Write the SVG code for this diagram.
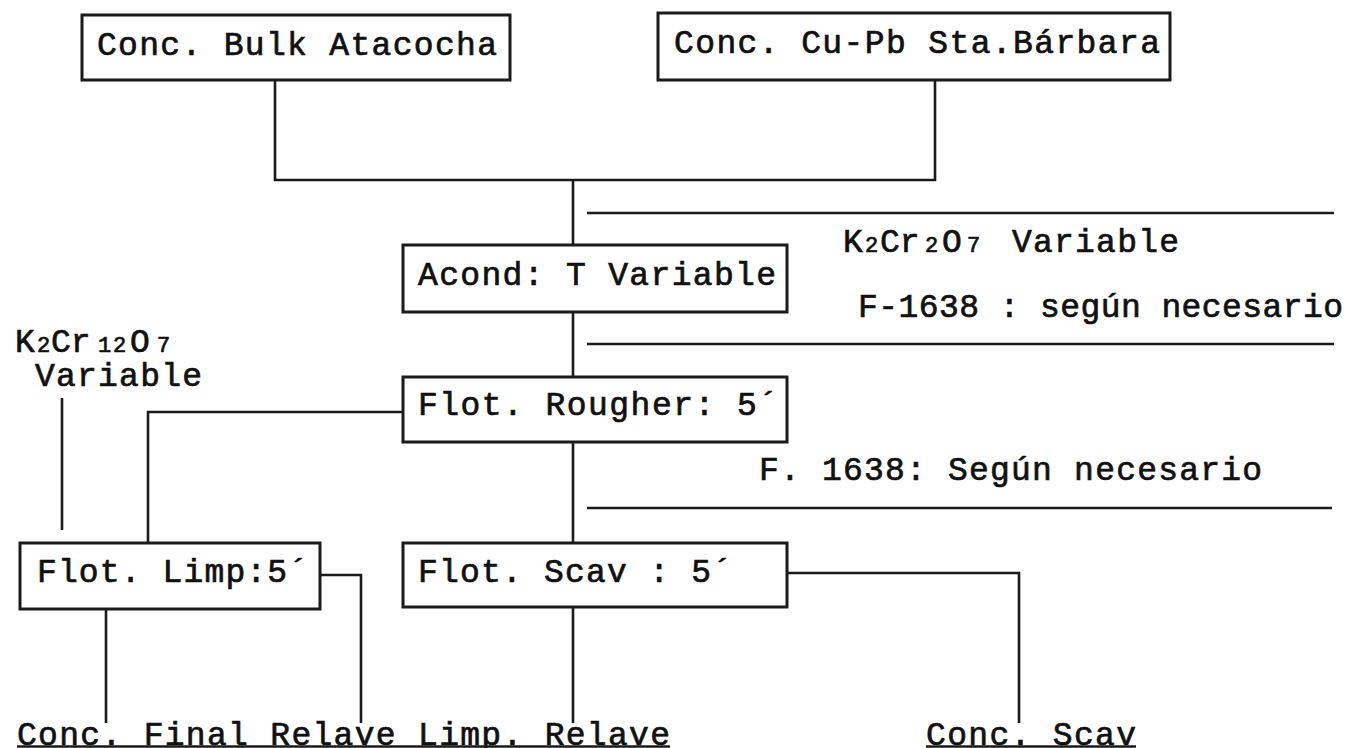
<svg xmlns="http://www.w3.org/2000/svg" width="1346" height="748" viewBox="0 0 1346 748">
<style>
.bg{fill:#ffffff}
.box{fill:#ffffff;stroke:#1a1a1a;stroke-width:3}
.ln{stroke:#1a1a1a;stroke-width:2.6;fill:none}
.t{font-family:"Liberation Mono","Courier New",monospace;font-size:33px;font-weight:normal;fill:#111111;stroke:#111111;stroke-width:0.7}
.s{font-size:22px}
</style>
<rect class="bg" x="0" y="0" width="1346" height="748"/>
<g id="connectors">
<polyline class="ln" points="275,80 275,180 935,180 935,80"/>
<line class="ln" x1="573" y1="180" x2="573" y2="245"/>
<line class="ln" x1="573" y1="312" x2="573" y2="377"/>
<line class="ln" x1="573" y1="442" x2="573" y2="543"/>
<line class="ln" x1="573" y1="607" x2="573" y2="723"/>
<line class="ln" x1="587" y1="213" x2="1334" y2="213"/>
<line class="ln" x1="587" y1="344" x2="1334" y2="344"/>
<line class="ln" x1="587" y1="508" x2="1332" y2="508"/>
<polyline class="ln" points="403,412 148,412 148,543"/>
<line class="ln" x1="62" y1="398" x2="62" y2="530"/>
<line class="ln" x1="106" y1="609" x2="106" y2="723"/>
<polyline class="ln" points="320,575 361,575 361,723"/>
<polyline class="ln" points="787,573 1019,573 1019,723"/>
</g>
<g id="n-bulk">
<rect class="box" x="82" y="15" width="428" height="65"/>
<text class="t" x="97" y="55" textLength="400">Conc. Bulk Atacocha</text>
</g>
<g id="n-cupb">
<rect class="box" x="658" y="13" width="512" height="67"/>
<text class="t" x="674" y="53" textLength="486">Conc. Cu-Pb Sta.Bárbara</text>
</g>
<g id="n-acond">
<rect class="box" x="403" y="245" width="384" height="67"/>
<text class="t" x="418" y="285" textLength="358">Acond: T Variable</text>
</g>
<g id="n-reag1">
<text class="t" x="843" y="252"><tspan>K</tspan><tspan class="s" x="865">2</tspan><tspan x="880">Cr</tspan><tspan class="s" x="925">2</tspan><tspan x="942">O</tspan><tspan class="s" x="967">7</tspan><tspan x="1012" textLength="167">Variable</tspan></text>
<text class="t" x="858" y="317" textLength="485">F-1638 : según necesario</text>
</g>
<g id="n-reag2">
<text class="t" x="15" y="352"><tspan>K</tspan><tspan class="s" x="37">2</tspan><tspan x="51">Cr</tspan><tspan class="s" x="98">1</tspan><tspan class="s" x="113">2</tspan><tspan x="130">O</tspan><tspan class="s" x="157">7</tspan></text>
<text class="t" x="35" y="386" textLength="167">Variable</text>
</g>
<g id="n-rougher">
<rect class="box" x="403" y="377" width="384" height="65"/>
<text class="t" x="418" y="415" textLength="360">Flot. Rougher: 5´</text>
</g>
<g id="n-reag3">
<text class="t" x="759" y="480" textLength="503">F. 1638: Según necesario</text>
</g>
<g id="n-limp">
<rect class="box" x="20" y="543" width="300" height="66"/>
<text class="t" x="37" y="582" textLength="271">Flot. Limp:5´</text>
</g>
<g id="n-scav">
<rect class="box" x="403" y="543" width="384" height="64"/>
<text class="t" x="418" y="582" textLength="314">Flot. Scav : 5´</text>
</g>
<g id="n-out1">
<text class="t" x="17" y="745" textLength="653">Conc. Final Relave Limp. Relave</text>
<line class="ln" x1="17" y1="746.5" x2="670" y2="746.5"/>
</g>
<g id="n-out2">
<text class="t" x="926" y="745" textLength="210">Conc. Scav</text>
<line class="ln" x1="926" y1="746.5" x2="1136" y2="746.5"/>
</g>
</svg>
